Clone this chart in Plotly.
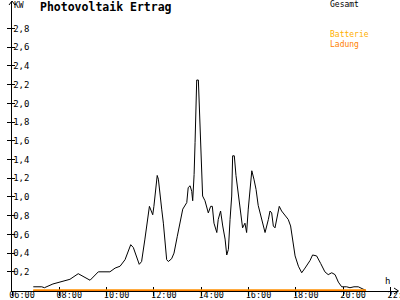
import plotly.graph_objects as go

# ---- data ----
hours = [6.90, 7.26, 7.37, 7.73, 8.45, 8.80, 9.30, 9.65, 10.14, 10.36, 10.57, 10.78,
         11.02, 11.13, 11.38, 11.48, 11.62, 11.81, 11.95, 12.00, 12.14, 12.19, 12.33,
         12.40, 12.54, 12.61, 12.75, 12.85, 12.99, 13.10, 13.22, 13.39, 13.45, 13.53,
         13.60, 13.64, 13.70, 13.74, 13.81, 13.88, 13.95, 14.02, 14.06, 14.16, 14.30,
         14.40, 14.47, 14.54, 14.66, 14.72, 14.82, 14.91, 15.01, 15.08, 15.15, 15.22,
         15.29, 15.33, 15.40, 15.47, 15.57, 15.67, 15.75, 15.85, 15.92, 15.99, 16.06,
         16.14, 16.23, 16.32, 16.41, 16.52, 16.60, 16.70, 16.84, 16.91, 16.98, 17.05,
         17.12, 17.22, 17.30, 17.40, 17.54, 17.68, 17.78, 17.87, 17.97, 18.11, 18.25,
         18.39, 18.60, 18.71, 18.88, 19.05, 19.23, 19.37, 19.52, 19.66, 19.80, 19.94,
         20.15, 20.29, 20.46, 20.64, 20.83, 20.97]
gesamt_kw = [0.04, 0.04, 0.03, 0.07, 0.12, 0.18, 0.11, 0.20, 0.20, 0.24, 0.26, 0.33,
             0.49, 0.46, 0.28, 0.31, 0.55, 0.90, 0.81, 0.90, 1.23, 1.19, 0.87,
             0.72, 0.33, 0.31, 0.34, 0.40, 0.58, 0.71, 0.87, 0.94, 1.10, 1.12,
             1.06, 0.96, 1.24, 1.58, 2.25, 2.25, 1.80, 1.33, 1.01, 0.96, 0.83,
             0.90, 0.90, 0.72, 0.62, 0.76, 0.85, 0.69, 0.55, 0.38, 0.44, 0.76,
             1.01, 1.44, 1.44, 1.23, 1.05, 0.87, 0.67, 0.72, 0.62, 0.87, 1.05,
             1.28, 1.19, 1.08, 0.91, 0.80, 0.72, 0.62, 0.76, 0.85, 0.83, 0.69,
             0.67, 0.80, 0.90, 0.85, 0.81, 0.76, 0.69, 0.55, 0.37, 0.26, 0.19,
             0.24, 0.32, 0.38, 0.37, 0.29, 0.20, 0.17, 0.19, 0.17, 0.09, 0.04,
             0.04, 0.03, 0.04, 0.04, 0.02, 0.00]
charge_hours = [6.90, 20.97]
batterie_kw = [0.0, 0.0]
ladung_kw = [0.0, 0.0]

x_tickvals = [6, 8, 10, 12, 14, 16, 18, 20, 22]
x_ticktext = ["06:00", "08:00", "10:00", "12:00", "14:00", "16:00", "18:00", "20:00", "22:00"]
y_tickvals = [0.2, 0.4, 0.6, 0.8, 1.0, 1.2, 1.4, 1.6, 1.8, 2.0, 2.2, 2.4, 2.6, 2.8]
y_ticktext = ["0,2", "0,4", "0,6", "0,8", "1,0", "1,2", "1,4", "1,6", "1,8", "2,0",
              "2,2", "2,4", "2,6", "2,8"]

title_text = "Photovoltaik Ertrag"
unit_y = "KW"
unit_x = "h"
legend_names = ["Gesamt", "Batterie", "Ladung"]
colors = ["#000000", "#FFB000", "#FF8000"]

# ---- layout geometry ----
W, H = 400, 300
L, R, T, B = 12, 398, 2, 291
MONO = "DejaVu Sans Mono"


def px(x):
    return (x - L) / (R - L)


def py(y):
    return (B - y) / (B - T)


fig = go.Figure()
fig.add_trace(go.Scatter(x=hours, y=gesamt_kw, mode="lines", name=legend_names[0],
                         line=dict(color=colors[0], width=1)))
fig.add_trace(go.Scatter(x=charge_hours, y=batterie_kw, mode="lines", name=legend_names[1],
                         line=dict(color=colors[1], width=2)))
fig.add_trace(go.Scatter(x=charge_hours, y=ladung_kw, mode="lines", name=legend_names[2],
                         line=dict(color=colors[2], width=2)))
# invisible helper trace for overlay axes (extra tick marks)
fig.add_trace(go.Scatter(x=[None], y=[None], xaxis="x2", yaxis="y2", showlegend=False,
                         hoverinfo="skip"))

xrange = [6, 6 + (R - L) / 23.65]
yrange = [-0.005, 3.084]

fig.update_layout(
    width=W, height=H,
    margin=dict(l=L, r=W - R, t=T, b=H - B, autoexpand=False),
    paper_bgcolor="white", plot_bgcolor="white",
    showlegend=False,
    xaxis=dict(range=xrange, showgrid=False, zeroline=False, showline=True,
               automargin=False,
               linecolor="black", linewidth=1, layer="below traces",
               tickmode="array", tickvals=x_tickvals, ticktext=x_ticktext,
               ticks="inside", ticklen=4, tickcolor="black", tickwidth=1,
               ticklabelshift=10, ticklabelstandoff=-4, ticklabeloverflow="allow",
               tickfont=dict(family=MONO, size=8.5, color="black")),
    yaxis=dict(range=yrange, showgrid=False, zeroline=False, showline=True,
               automargin=False,
               linecolor="black", linewidth=1, layer="below traces",
               tickmode="array", tickvals=y_tickvals, ticktext=y_ticktext,
               ticks="outside", ticklen=4, tickcolor="black", tickwidth=1,
               ticklabelposition="inside", ticklabeloverflow="allow",
               tickfont=dict(family=MONO, size=9, color="black")),
    xaxis2=dict(range=xrange, overlaying="x", anchor="y2", side="bottom",
                automargin=False,
                showgrid=False, zeroline=False, showline=False,
                tickmode="array", tickvals=x_tickvals, showticklabels=False,
                ticks="outside", ticklen=4, tickcolor="black", tickwidth=1),
    yaxis2=dict(range=yrange, overlaying="y", anchor="x2", side="left",
                automargin=False,
                showgrid=False, zeroline=False, showline=False,
                tickmode="array", tickvals=y_tickvals, showticklabels=False,
                ticks="inside", ticklen=3, tickcolor="black", tickwidth=1),
)

ann = [
    dict(text=title_text, x=px(39), y=py(7.5),
         font=dict(family=MONO, size=11.5, color="black", weight="bold")),
    dict(text=unit_y, x=px(13), y=py(5.5), font=dict(family=MONO, size=8, color="black")),
    dict(text=legend_names[0], x=px(329), y=py(4.5), font=dict(family=MONO, size=8, color=colors[0])),
    dict(text=legend_names[1], x=px(329), y=py(35), font=dict(family=MONO, size=8, color=colors[1])),
    dict(text=legend_names[2], x=px(329), y=py(44), font=dict(family=MONO, size=8, color=colors[2])),
    dict(text=unit_x, x=px(384), y=py(281), font=dict(family=MONO, size=9, color="black")),
]
for a in ann:
    fig.add_annotation(xref="paper", yref="paper", xanchor="left", yanchor="middle",
                       showarrow=False, borderpad=0, **a)

# axis arrow heads
up = f"M {px(9)},{py(5)} L {px(12)},{py(1)} L {px(15)},{py(5)}"
right = f"M {px(394)},{py(288)} L {px(398.5)},{py(291)} L {px(394)},{py(294)}"
for p in (up, right):
    fig.add_shape(type="path", path=p, xref="paper", yref="paper",
                  line=dict(color="black", width=1))

fig.write_html("out.html", config=dict(displayModeBar=False))
